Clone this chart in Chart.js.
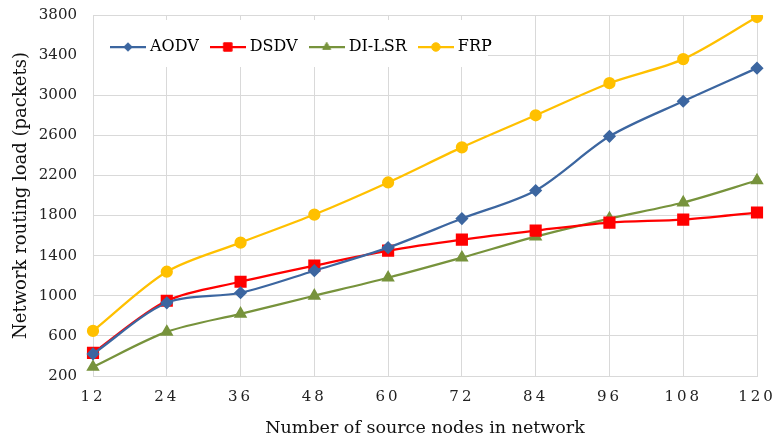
<!DOCTYPE html>
<html>
<head>
<meta charset="utf-8">
<script src="https://cdn.jsdelivr.net/npm/chart.js@4/dist/chart.umd.min.js"></script>
<style>
  html, body { margin: 0; padding: 0; background: #ffffff; }
  canvas { display: block; }
</style>
</head>
<body>
<canvas id="c" width="772" height="439"></canvas>
<script>
const categories = ['12', '24', '36', '48', '60', '72', '84', '96', '108', '120'];
const aodv  = [420, 930, 1030, 1250, 1480, 1770, 2050, 2590, 2940, 3270];
const dsdv  = [430, 950, 1140, 1300, 1450, 1560, 1650, 1730, 1760, 1830];
const dilsr = [290, 640, 820, 1000, 1180, 1380, 1590, 1770, 1930, 2150];
const frp   = [650, 1240, 1530, 1810, 2130, 2480, 2800, 3120, 3360, 3780];
const yTicks = [200, 600, 1000, 1400, 1800, 2200, 2600, 3000, 3400, 3800];

const FONT = '"DejaVu Serif", "Liberation Serif", serif';

const seriesStyle = [
  { label: 'AODV',   data: aodv,  color: '#3c66a0', point: 'rectRot',  r: 5 },
  { label: 'DSDV',   data: dsdv,  color: '#ff0000', point: 'rect',     r: 7 },
  { label: 'DI-LSR', data: dilsr, color: '#77933c', point: 'triangle', r: 5.5 },
  { label: 'FRP',    data: frp,   color: '#ffc000', point: 'circle',   r: 5 }
];

function legendIcon(s) {
  const cv = document.createElement('canvas');
  cv.width = 36; cv.height = 16;
  const ctx = cv.getContext('2d');
  ctx.strokeStyle = s.color; ctx.lineWidth = 2.25;
  ctx.beginPath(); ctx.moveTo(0, 8); ctx.lineTo(36, 8); ctx.stroke();
  ctx.fillStyle = s.color; ctx.strokeStyle = s.color; ctx.lineWidth = 1;
  Chart.helpers.drawPoint(ctx, { pointStyle: s.point, radius: s.r * 0.85, borderWidth: 1 }, 18, 8);
  return cv;
}

const datasets = seriesStyle.map(s => ({
  label: s.label,
  data: s.data,
  borderColor: s.color,
  backgroundColor: s.color,
  pointBackgroundColor: s.color,
  pointBorderColor: s.color,
  pointStyle: s.point,
  pointRadius: s.r,
  pointHoverRadius: s.r,
  borderWidth: 2.25,
  tension: 0.3,
  fill: false
}));

const legendPlugin = {
  id: 'inlineLegend',
  beforeLayout(chart) {
    const lg = chart.legend;
    if (lg && !lg._wrapped) {
      const f = lg.fit.bind(lg);
      lg.fit = function () { f(); this._realH = this.height; this.height = 0; };
      lg._wrapped = true;
    }
  },
  afterLayout(chart) {
    const lg = chart.legend;
    if (!lg) return;
    lg.left = 99; lg.right = 530;
    lg.top = 24; lg.bottom = 68;
    lg.width = lg.right - lg.left; lg.height = lg.bottom - lg.top;
    const sx = chart.scales.x;
    if (sx && !sx._lsWrapped) {
      const orig = sx.drawLabels.bind(sx);
      sx.drawLabels = function (ca) {
        const ctx = this.ctx;
        const prev = ctx.letterSpacing;
        ctx.letterSpacing = '3px';
        orig(ca);
        ctx.letterSpacing = prev || '0px';
      };
      sx._lsWrapped = true;
    }
  },
  beforeDatasetsDraw(chart) {
    const ctx = chart.ctx;
    ctx.save();
    ctx.fillStyle = '#ffffff';
    ctx.fillRect(94, 20, 394, 47);
    ctx.restore();
    chart.legend.draw(chart.chartArea);
  }
};

new Chart(document.getElementById('c'), {
  type: 'line',
  data: { labels: categories, datasets: datasets },
  plugins: [legendPlugin],
  options: {
    responsive: false,
    animation: false,
    devicePixelRatio: 1,
    layout: { padding: { top: 15, right: 15, bottom: 0, left: 0 } },
    plugins: {
      tooltip: { enabled: false },
      legend: {
        display: true,
        position: 'top',
        align: 'start',
        labels: {
          usePointStyle: true,
          pointStyleWidth: 28,
          padding: 15,
          color: '#222222',
          font: { family: FONT, size: 16 },
          generateLabels(chart) {
            return seriesStyle.map((s, i) => ({
              text: s.label,
              datasetIndex: i,
              pointStyle: legendIcon(s),
              fillStyle: s.color,
              strokeStyle: s.color,
              lineWidth: 0,
              hidden: false
            }));
          }
        }
      }
    },
    scales: {
      x: {
        type: 'category',
        offset: false,
        grid: { color: '#d9d9d9', lineWidth: 1, drawTicks: false },
        border: { color: '#d9d9d9' },
        ticks: { color: '#222222', font: { family: FONT, size: 15 }, padding: 12, maxRotation: 0, autoSkip: false },
        title: { display: true, text: 'Number of source nodes in network', color: '#111111', font: { family: FONT, size: 17.5 }, padding: { top: 4, bottom: 0 } },
        afterFit(s) { s.height = 63; s.paddingLeft = 0; s.paddingRight = 0; }
      },
      y: {
        min: 200, max: 3800,
        afterBuildTicks(s) { s.ticks = yTicks.map(v => ({ value: v })); },
        grid: { color: '#d9d9d9', lineWidth: 1, drawTicks: false },
        border: { display: false },
        ticks: { color: '#222222', font: { family: FONT, size: 15 }, padding: 16, callback: v => String(v) },
        title: { display: true, text: 'Network routing load (packets)', color: '#111111', font: { family: FONT, size: 18 }, padding: { top: 11, bottom: 0 } },
        afterFit(s) { s.width = 93; s.paddingTop = 0; s.paddingBottom = 0; }
      }
    }
  }
});
</script>
</body>
</html>
